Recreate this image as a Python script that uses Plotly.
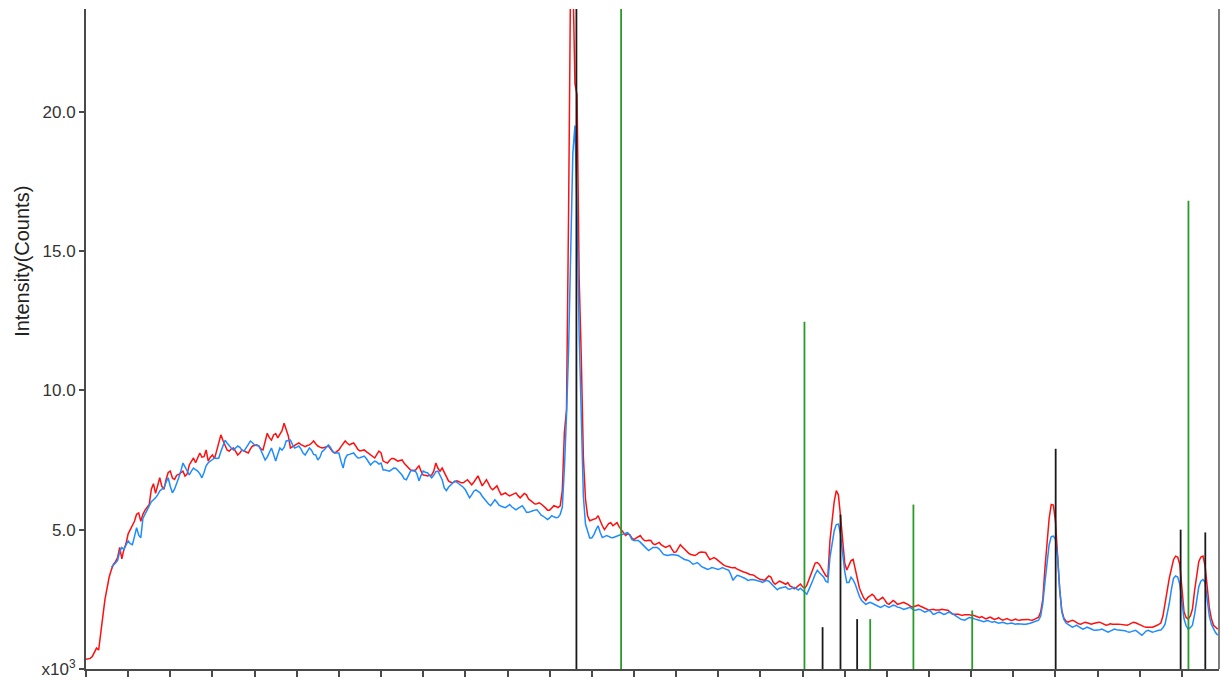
import numpy as np
import plotly.graph_objects as go

# 2-theta sampling grid (degrees), step 0.1
two_theta = np.round(np.arange(10.0, 63.75, 0.1), 1)

# Intensities in units of 10^3 counts
red_counts = [
    0.35, 0.36, 0.38, 0.45, 0.62, 0.75, 0.68, 1.20, 1.90, 2.50,
    2.95, 3.30, 3.55, 3.75, 3.85, 4.00, 4.36, 3.95, 4.30, 4.50,
    4.85, 5.00, 5.10, 5.30, 5.55, 5.60, 5.30, 5.55, 5.70, 5.80,
    5.90, 6.45, 6.65, 6.30, 6.60, 6.86, 6.55, 6.45, 6.80, 7.05,
    7.10, 6.85, 6.80, 6.95, 6.98, 7.05, 7.10, 6.92, 7.00, 7.32,
    7.45, 7.57, 7.40, 7.60, 7.75, 7.60, 7.62, 7.86, 7.46, 7.60,
    7.68, 7.55, 7.85, 8.10, 8.40, 8.20, 8.00, 7.85, 7.82, 7.90,
    7.93, 7.80, 7.68, 7.75, 7.86, 7.82, 7.78, 7.75, 7.90, 8.00,
    8.02, 8.04, 8.00, 7.90, 7.86, 8.15, 8.46, 8.30, 8.21, 8.40,
    8.45, 8.29, 8.45, 8.55, 8.82, 8.60, 8.36, 7.93, 7.98, 8.04,
    8.08, 8.11, 8.05, 8.00, 7.98, 8.02, 8.04, 8.10, 8.18, 8.08,
    8.00, 7.96, 7.93, 7.95, 7.98, 8.00, 7.90, 7.80, 7.75, 7.80,
    7.86, 7.98, 8.10, 8.18, 8.10, 8.04, 8.08, 8.11, 8.00, 7.88,
    7.82, 7.84, 7.86, 7.80, 7.75, 7.70, 7.62, 7.57, 7.70, 7.82,
    7.75, 7.46, 7.42, 7.39, 7.48, 7.55, 7.55, 7.50, 7.46, 7.48,
    7.50, 7.38, 7.29, 7.20, 7.14, 7.12, 7.10, 7.20, 7.29, 7.10,
    6.96, 6.95, 6.93, 6.95, 6.96, 7.10, 7.39, 7.20, 7.10, 7.21,
    7.05, 6.90, 6.75, 6.70, 6.68, 6.72, 6.75, 6.72, 6.68, 6.68,
    6.74, 6.79, 6.70, 6.61, 6.70, 6.82, 6.93, 6.75, 6.57, 6.68,
    6.79, 6.65, 6.50, 6.43, 6.50, 6.57, 6.40, 6.25, 6.28, 6.32,
    6.26, 6.21, 6.25, 6.30, 6.32, 6.22, 6.14, 6.22, 6.30, 6.25,
    6.10, 6.04, 5.98, 5.92, 5.93, 5.96, 5.92, 5.86, 5.78, 5.70,
    5.70, 5.78, 5.86, 5.83, 5.79, 5.85, 6.40, 8.50, 9.30, 16.5,
    25.5, 25.0, 21.0, 20.6, 14.0, 11.2, 7.60, 6.10, 5.50, 5.32,
    5.34, 5.36, 5.40, 5.50, 5.30, 5.14, 5.00, 5.10, 5.22, 5.25,
    5.14, 5.20, 5.25, 5.10, 5.00, 4.88, 4.79, 4.85, 4.82, 4.70,
    4.64, 4.70, 4.75, 4.79, 4.68, 4.61, 4.60, 4.62, 4.61, 4.50,
    4.46, 4.50, 4.54, 4.45, 4.40, 4.36, 4.40, 4.43, 4.30, 4.18,
    4.20, 4.35, 4.46, 4.38, 4.29, 4.20, 4.15, 4.11, 4.09, 4.07,
    4.12, 4.18, 4.20, 4.18, 4.18, 4.05, 3.93, 3.96, 4.00, 3.95,
    3.88, 3.82, 3.76, 3.71, 3.68, 3.65, 3.64, 3.63, 3.64, 3.58,
    3.54, 3.50, 3.48, 3.46, 3.42, 3.39, 3.38, 3.36, 3.30, 3.24,
    3.21, 3.20, 3.18, 3.26, 3.34, 3.30, 3.12, 3.04, 3.08, 3.15,
    3.12, 3.08, 3.04, 3.10, 2.98, 2.95, 2.88, 2.92, 2.98, 3.05,
    2.95, 2.90, 3.00, 3.20, 3.40, 3.60, 3.80, 3.82, 3.75, 3.62,
    3.50, 3.35, 3.30, 4.60, 5.30, 6.00, 6.40, 6.25, 5.50, 4.50,
    3.80, 3.55, 3.70, 3.89, 3.93, 3.60, 3.20, 2.90, 2.72, 2.55,
    2.46, 2.57, 2.62, 2.68, 2.62, 2.50, 2.46, 2.52, 2.57, 2.48,
    2.36, 2.32, 2.40, 2.46, 2.40, 2.32, 2.34, 2.38, 2.39, 2.35,
    2.32, 2.26, 2.22, 2.24, 2.27, 2.29, 2.25, 2.21, 2.17, 2.12,
    2.11, 2.13, 2.14, 2.12, 2.11, 2.12, 2.14, 2.14, 2.12, 2.11,
    2.05, 1.97, 1.96, 1.97, 1.96, 1.94, 1.93, 1.95, 1.96, 1.95,
    1.93, 1.93, 1.90, 1.86, 1.84, 1.88, 1.85, 1.80, 1.83, 1.86,
    1.82, 1.78, 1.80, 1.84, 1.79, 1.75, 1.78, 1.81, 1.77, 1.74,
    1.76, 1.79, 1.76, 1.75, 1.77, 1.78, 1.79, 1.78, 1.76, 1.75,
    1.78, 1.82, 1.86, 2.05, 2.50, 3.60, 4.60, 5.40, 5.90, 5.88,
    5.30, 4.10, 2.85, 2.10, 1.82, 1.72, 1.68, 1.72, 1.75, 1.72,
    1.66, 1.62, 1.61, 1.65, 1.68, 1.66, 1.62, 1.61, 1.63, 1.66,
    1.67, 1.68, 1.64, 1.60, 1.57, 1.59, 1.62, 1.61, 1.60, 1.61,
    1.61, 1.60, 1.59, 1.58, 1.57, 1.60, 1.64, 1.68, 1.66, 1.62,
    1.57, 1.55, 1.52, 1.50, 1.51, 1.50, 1.50, 1.52, 1.56, 1.60,
    1.65, 1.90, 2.30, 2.80, 3.25, 3.65, 3.92, 4.05, 4.02, 3.75,
    2.85, 2.05, 1.85, 1.79, 1.90, 2.15, 2.80, 3.40, 3.85, 4.02,
    4.05, 3.70, 3.00, 2.20, 1.80, 1.57, 1.50, 1.43,
]

blue_start = 12  # blue pattern starts at 11.2 deg
blue_counts = [
    3.65, 3.72, 3.80, 3.90, 4.20, 4.36, 4.29, 4.45,
    4.60, 4.50, 4.46, 4.75, 5.07, 4.80, 4.71, 5.40, 5.55, 5.70,
    5.90, 6.00, 6.07, 6.14, 6.25, 6.39, 6.45, 6.50, 6.70, 6.86,
    6.55, 6.32, 6.45, 6.70, 6.86, 7.10, 7.39, 7.25, 7.10, 6.96,
    7.10, 7.21, 7.15, 7.10, 7.00, 6.86, 7.05, 7.29, 7.40, 7.46,
    7.50, 7.57, 7.55, 7.57, 7.80, 8.05, 8.21, 8.10, 8.00, 7.92,
    7.86, 7.92, 8.00, 7.95, 7.85, 7.82, 7.95, 8.10, 8.18, 8.12,
    8.04, 8.02, 8.00, 7.85, 7.65, 7.50, 7.60, 7.80, 7.93, 7.70,
    7.46, 7.70, 7.93, 7.85, 7.95, 8.18, 8.20, 8.21, 8.05, 7.93,
    7.96, 8.00, 7.90, 7.75, 7.68, 7.80, 7.93, 7.85, 7.70, 7.68,
    7.50, 7.60, 7.80, 7.86, 7.95, 8.04, 7.95, 7.82, 7.75, 7.75,
    7.75, 7.45, 7.21, 7.55, 7.68, 7.70, 7.72, 7.75, 7.65, 7.57,
    7.58, 7.62, 7.64, 7.55, 7.45, 7.32, 7.40, 7.46, 7.42, 7.35,
    7.39, 7.14, 7.14, 7.12, 7.10, 7.15, 7.21, 7.20, 7.10, 7.04,
    6.95, 6.82, 6.79, 6.95, 7.10, 7.12, 7.14, 7.00, 6.75, 6.95,
    7.10, 7.06, 7.04, 6.95, 6.86, 6.95, 7.08, 7.10, 6.95, 6.79,
    6.50, 6.40, 6.52, 6.61, 6.70, 6.75, 6.70, 6.64, 6.61, 6.52,
    6.43, 6.28, 6.14, 6.25, 6.38, 6.43, 6.38, 6.32, 6.20, 6.10,
    6.00, 5.92, 5.86, 5.96, 6.07, 5.98, 5.88, 5.84, 5.82, 5.79,
    5.84, 5.90, 5.82, 5.75, 5.71, 5.76, 5.82, 5.86, 5.75, 5.62,
    5.62, 5.66, 5.68, 5.70, 5.71, 5.62, 5.52, 5.48, 5.42, 5.36,
    5.42, 5.50, 5.46, 5.43, 5.44, 5.55, 5.80, 7.20, 9.10, 11.5,
    15.0, 18.5, 19.5, 16.5, 12.0, 8.60, 6.20, 5.20, 4.90, 4.70,
    4.70, 4.82, 5.00, 5.14, 4.90, 4.72, 4.75, 4.79, 4.76, 4.72,
    4.71, 4.75, 4.79, 4.80, 4.82, 4.84, 4.86, 4.89, 4.80, 4.65,
    4.61, 4.61, 4.61, 4.55, 4.46, 4.40, 4.32, 4.25, 4.30, 4.36,
    4.36, 4.36, 4.30, 4.20, 4.11, 4.09, 4.07, 4.09, 4.11, 4.10,
    4.08, 4.07, 4.02, 3.96, 3.93, 3.91, 3.89, 3.83, 3.76, 3.78,
    3.82, 3.76, 3.68, 3.64, 3.60, 3.57, 3.60, 3.64, 3.62, 3.58,
    3.57, 3.60, 3.64, 3.60, 3.56, 3.54, 3.38, 3.18, 3.28, 3.36,
    3.34, 3.30, 3.29, 3.24, 3.18, 3.20, 3.21, 3.20, 3.18, 3.18,
    3.14, 3.11, 3.14, 3.18, 3.15, 3.08, 3.00, 2.92, 2.84, 2.90,
    2.92, 2.93, 2.95, 2.88, 2.86, 2.90, 2.93, 2.88, 2.83, 2.90,
    2.82, 2.75, 2.68, 2.85, 3.00, 3.20, 3.40, 3.54, 3.45, 3.39,
    3.30, 3.15, 3.11, 4.00, 4.45, 4.95, 5.18, 5.20, 4.85, 4.15,
    3.50, 3.10, 3.10, 3.29, 3.20, 3.04, 2.80, 2.60, 2.46, 2.38,
    2.32, 2.36, 2.39, 2.36, 2.32, 2.30, 2.25, 2.21, 2.25, 2.29,
    2.25, 2.21, 2.25, 2.29, 2.27, 2.22, 2.21, 2.18, 2.14, 2.16,
    2.20, 2.21, 2.16, 2.11, 2.12, 2.14, 2.13, 2.08, 2.04, 2.07,
    2.11, 2.05, 1.96, 1.98, 2.03, 2.04, 2.00, 1.96, 1.98, 2.03,
    2.04, 1.99, 1.93, 1.88, 1.83, 1.79, 1.77, 1.75, 1.80, 1.85,
    1.84, 1.80, 1.79, 1.77, 1.75, 1.73, 1.70, 1.72, 1.74, 1.70,
    1.68, 1.70, 1.66, 1.64, 1.66, 1.68, 1.65, 1.62, 1.63, 1.65,
    1.63, 1.61, 1.62, 1.61, 1.60, 1.61, 1.61, 1.62, 1.64, 1.67,
    1.69, 1.72, 1.75, 1.90, 2.35, 3.10, 3.90, 4.46, 4.75, 4.77,
    4.65, 4.05, 2.90, 2.05, 1.78, 1.65, 1.60, 1.55, 1.50, 1.53,
    1.57, 1.52, 1.46, 1.43, 1.46, 1.50, 1.47, 1.43, 1.40, 1.39,
    1.39, 1.41, 1.43, 1.40, 1.36, 1.32, 1.36, 1.40, 1.43, 1.41,
    1.40, 1.39, 1.39, 1.37, 1.34, 1.32, 1.34, 1.37, 1.39, 1.33,
    1.27, 1.21, 1.28, 1.36, 1.39, 1.36, 1.32, 1.34, 1.37, 1.39,
    1.40, 1.48, 1.61, 1.95, 2.35, 2.85, 3.25, 3.34, 3.30, 3.04,
    2.30, 1.80, 1.55, 1.43, 1.48, 1.57, 1.95, 2.40, 2.95, 3.15,
    3.21, 3.11, 2.50, 1.90, 1.60, 1.42, 1.30, 1.21,
]

# Reference pattern sticks (position in deg 2-theta, height in 10^3 counts)
black_ref_pos = [33.27, 44.95, 45.80, 46.59, 56.01, 61.94, 63.11]
black_ref_h = [30.0, 1.50, 5.54, 1.79, 7.90, 5.00, 4.90]
green_ref_pos = [35.39, 44.09, 47.21, 49.26, 52.05, 62.31]
green_ref_h = [30.0, 12.46, 1.79, 5.90, 2.10, 16.80]

y_tick_vals = [0, 5, 10, 15, 20]
y_tick_text = ["x10<sup>3</sup>", "5.0", "10.0", "15.0", "20.0"]


def sticks(pos, h):
    xs, ys = [], []
    for p, v in zip(pos, h):
        xs += [p, p, None]
        ys += [0, v, None]
    return xs, ys


fig = go.Figure()
fig.add_trace(go.Scatter(x=two_theta, y=red_counts, mode="lines",
                         line=dict(color="#ff1010", width=1.5), name="red"))
fig.add_trace(go.Scatter(x=two_theta[blue_start:], y=blue_counts, mode="lines",
                         line=dict(color="#1e8cff", width=1.5), name="blue"))
bx, by = sticks(black_ref_pos, black_ref_h)
fig.add_trace(go.Scatter(x=bx, y=by, mode="lines",
                         line=dict(color="#1a1a1a", width=1.8), name="ref1"))
gx, gy = sticks(green_ref_pos, green_ref_h)
fig.add_trace(go.Scatter(x=gx, y=gy, mode="lines",
                         line=dict(color="#2a9a2a", width=1.8), name="ref2"))

axis_font = dict(family="Liberation Sans, Arial, sans-serif", size=17, color="#333333")

fig.update_layout(
    width=1222, height=682,
    margin=dict(l=86, r=3, t=9, b=10),
    plot_bgcolor="white", paper_bgcolor="white",
    showlegend=False,
    font=axis_font,
)
fig.update_xaxes(range=[10, 63.76], showgrid=False, zeroline=False,
                 showline=True, linecolor="#4a4a4a", linewidth=2,
                 ticks="outside", ticklen=6, tickwidth=1.5, tickcolor="#4a4a4a",
                 tick0=10, dtick=2, showticklabels=False)
fig.update_yaxes(range=[0, 23.68], showgrid=False, zeroline=False,
                 showline=True, linecolor="#4a4a4a", linewidth=2,
                 ticks="outside", ticklen=5, tickwidth=1.5, tickcolor="#4a4a4a",
                 ticklabelstandoff=0,
                 tickvals=y_tick_vals, ticktext=y_tick_text, tickfont=axis_font)

fig.add_shape(type="line", xref="paper", yref="paper", x0=1, x1=1, y0=0, y1=1,
              line=dict(color="#555555", width=1.5))
fig.add_annotation(text="Intensity(Counts)", xref="paper", yref="paper",
                   x=(22 - 86) / 1133, y=(672 - 263) / 663, showarrow=False,
                   xanchor="center", yanchor="middle",
                   textangle=-90, font=dict(family="Liberation Sans, Arial, sans-serif",
                                            size=20, color="#222222"))

fig.write_html("out.html", config={"displayModeBar": False},
               post_script="document.body.style.margin='0px';")
